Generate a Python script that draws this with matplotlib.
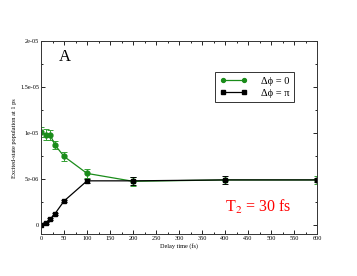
from matplotlib import pyplot as plt
from matplotlib.ticker import MultipleLocator, FixedLocator, FixedFormatter
import numpy as np

plt.rcParams['font.family'] = ['Liberation Serif', 'DejaVu Serif']
plt.rcParams['mathtext.fontset'] = 'stix'

# delay times (fs)
delay = [0, 10, 20, 30, 50, 100, 200, 400, 600]

# dphi = 0 (green)
pop0 = [1.011e-5, 0.985e-5, 0.98e-5, 0.873e-5, 0.746e-5, 0.561e-5, 0.475e-5, 0.49e-5, 0.49e-5]
err0 = [0.055e-5, 0.055e-5, 0.055e-5, 0.045e-5, 0.045e-5, 0.045e-5, 0.05e-5, 0.0, 0.04e-5]

# dphi = pi (black)
popPi = [0.0, 0.017e-5, 0.065e-5, 0.12e-5, 0.26e-5, 0.48e-5, 0.48e-5, 0.49e-5, 0.49e-5]
errPi = [0.005e-5, 0.01e-5, 0.01e-5, 0.01e-5, 0.015e-5, 0.02e-5, 0.04e-5, 0.045e-5, 0.02e-5]

ytick_vals = [0, 5e-6, 1e-5, 1.5e-5, 2e-5]
ytick_labels = ['0', '5e-06', '1e-05', '1.5e-05', '2e-05']

fig = plt.figure(figsize=(3.57, 2.76), dpi=100)
ax = fig.add_axes([0.115, 0.152, 0.773, 0.698])

# error bars
ax.errorbar(delay, pop0, yerr=err0, fmt='none', ecolor='#33a033', elinewidth=0.7,
            capsize=2.5, capthick=0.7)
ax.errorbar(delay, popPi, yerr=errPi, fmt='none', ecolor='black', elinewidth=0.7,
            capsize=2.5, capthick=0.7)
# lines
ax.plot(delay, pop0, color='#1a8c1a', marker='o', ms=3.5, lw=0.9, label='Δϕ = 0')
ax.plot(delay, popPi, color='black', marker='s', ms=3.3, lw=0.9, label='Δϕ = π')

ax.set_xlim(0, 600)
ax.set_ylim(-1e-6, 2e-5)
ax.xaxis.set_major_locator(MultipleLocator(50))
ax.xaxis.set_minor_locator(MultipleLocator(25))
ax.yaxis.set_major_locator(FixedLocator(ytick_vals))
ax.yaxis.set_major_formatter(FixedFormatter(ytick_labels))
ax.yaxis.set_minor_locator(MultipleLocator(2.5e-6))
ax.tick_params(which='both', direction='in', top=True, right=True, labelsize=4.5, pad=1.5)
ax.tick_params(which='major', length=3, width=0.6)
ax.tick_params(which='minor', length=1.6, width=0.6)
for s in ax.spines.values():
    s.set_linewidth(0.7)
    s.set_color('#333333')

ax.set_xlabel('Delay time (fs)', fontsize=4.5, labelpad=1)
ax.set_ylabel('Excited-state population at 1 ps', fontsize=4.5, labelpad=2)

ax.text(52, 1.83e-5, 'A', fontsize=12, ha='center', va='center')
ax.text(400, 2.0e-6, r'T$_2$ = 30 fs', fontsize=11.5, color='red', ha='left', va='center')

leg = ax.legend(loc='center', bbox_to_anchor=(0.774, 0.763), fontsize=7.5, frameon=True,
                fancybox=False, edgecolor='black', handlelength=2.6, borderpad=0.45,
                labelspacing=0.25, handletextpad=1.4, numpoints=2, markerscale=0.8,
                borderaxespad=0)
leg.get_frame().set_linewidth(0.7)

plt.savefig('out.png', dpi=100)
